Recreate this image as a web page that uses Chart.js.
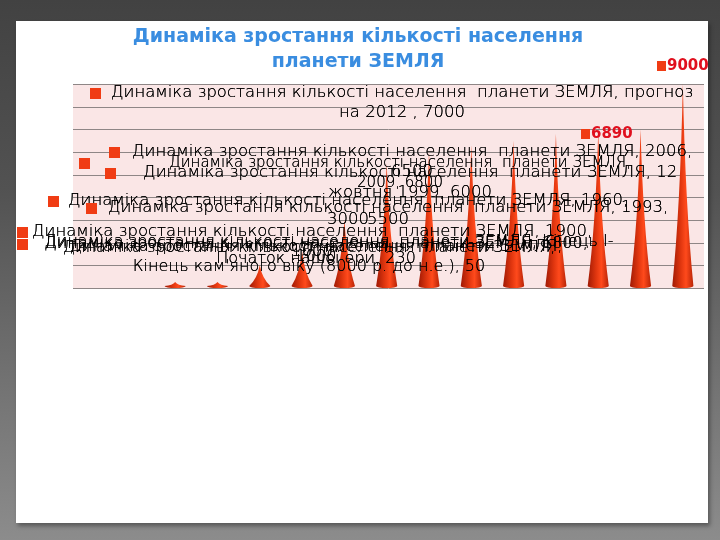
<!DOCTYPE html>
<html>
<head>
<meta charset="utf-8">
<script src="https://cdn.jsdelivr.net/npm/chart.js@4"></script>
<style>
  html, body { margin: 0; padding: 0; }
  body {
    width: 720px; height: 540px; overflow: hidden; position: relative;
    background: linear-gradient(180deg, #424242 0%, #525252 35%, #767676 75%, #8c8c8c 100%);
  }
  #panel {
    position: absolute; left: 16px; top: 21px; width: 692px; height: 502px;
    background: #fff; box-shadow: 2px 3px 4px rgba(0,0,0,0.35);
  }
  canvas { position: absolute; left: 0; top: 0; }
</style>
</head>
<body>
<div id="panel"></div>
<canvas id="chart" width="720" height="540"></canvas>
<script>
// population, millions
const categories = ["Кінець кам'яного віку (8000 р. до н.е.)", "Початок нашої ери", "1800", "1900", "1960", "1993",
  "12 жовтня 1999", "", "2006", "2009", "", "прогноз на 2012", ""];
const population = [50, 230, 1000, 1600, 3000, 5500, 6000, 6300, 6500, 6800, 6890, 7000, 9000];
const yTicks = [0, 1000, 2000, 3000, 4000, 5000, 6000, 7000, 8000, 9000];
const titleLines = ["Динаміка зростання кількості населення", "планети ЗЕМЛЯ"];
const series = "Динаміка зростання кількості населення  планети ЗЕМЛЯ";

// the overlapping data labels as they appear on the slide
const labelLines = [
  [series + ", прогноз", "на 2012 , 7000"],
  [series + ", 2006,", "6500"],
  [series + ",", "2009, 6800"],
  [series + ", 12", "жовтня 1999, 6000"],
  [series + ", 1960,", "3000"],
  [series + ", 1993,", "5500"],
  [series + ", 1900,", "1600"],
  [series + ", 1800,", "1000"],
  [series + ", Кінець I-"],
  [series + ",", "Початок нашої ери, 230"],
  [series + ",", "Кінець кам'яного віку (8000 р. до н.е.), 50"]
];
const redLabels = [12, 10]; // bars whose values are shown in red

// where PowerPoint left each label
const labelLayout = [
  { x: 402, ys: [93, 113], sq: [90, 88], size: 16.5 },
  { x: 412, ys: [152, 172], sq: [109, 147], size: 16.5 },
  { x: 400, ys: [163, 183], sq: [79, 158], size: 15 },
  { x: 410, ys: [173, 193], sq: [105, 168], size: 16.5 },
  { x: 348, ys: [201, 220], sq: [48, 196], size: 16.5 },
  { x: 388, ys: [208, 220], sq: [86, 203], size: 16.5 },
  { x: 312, ys: [232, 252], sq: [17, 227], size: 16.5 },
  { x: 316, ys: [244, 257], sq: [17, 239], size: 16 },
  { x: 329, ys: [242], sq: null, size: 16 },
  { x: 316, ys: [247, 259], sq: null, size: 16 },
  { x: 309, ys: [248, 267], sq: null, size: 16 }
];
const redLayout = [
  { x: 657, y: 66 },
  { x: 581, y: 134 }
];

const wallLeft = 73;
const textFont = '"DejaVu Sans", sans-serif';

const slidePlugin = {
  id: "slide",
  beforeDatasetsDraw(chart) {
    const { ctx, chartArea: a, scales: { y } } = chart;
    const top = y.getPixelForValue(yTicks[yTicks.length - 1]);
    const bottom = y.getPixelForValue(0);
    ctx.save();
    ctx.fillStyle = "#fae6e6";
    ctx.fillRect(wallLeft, top, a.right - wallLeft, bottom - top);
    ctx.strokeStyle = "#8e8686";
    ctx.lineWidth = 1;
    yTicks.forEach(v => {
      const py = Math.round(y.getPixelForValue(v)) + 0.5;
      ctx.beginPath();
      ctx.moveTo(wallLeft, py);
      ctx.lineTo(a.right, py);
      ctx.stroke();
    });
    ctx.restore();
  },
  afterDatasetsDraw(chart) {
    const ctx = chart.ctx;
    ctx.save();
    chart.getDatasetMeta(0).data.forEach(bar => {
      const { x, y, base, width } = bar.getProps(["x", "y", "base", "width"], true);
      const w = width;
      const tip = Math.min(y, base - 6);
      const h = base - tip;
      const g = ctx.createLinearGradient(x - w / 2, 0, x + w / 2, 0);
      g.addColorStop(0, "#a01a05");
      g.addColorStop(0.4, "#e0360f");
      g.addColorStop(0.65, "#ff4a1c");
      g.addColorStop(1, "#b82306");
      ctx.fillStyle = g;
      ctx.beginPath();
      ctx.moveTo(x - w / 2, base - 2);
      ctx.quadraticCurveTo(x - w * 0.12, base - h * 0.4, x, tip);
      ctx.quadraticCurveTo(x + w * 0.12, base - h * 0.4, x + w / 2, base - 2);
      ctx.ellipse(x, base - 2, w / 2, 2, 0, 0, Math.PI);
      ctx.closePath();
      ctx.fill();
    });
    ctx.restore();
  },
  afterDraw(chart) {
    const ctx = chart.ctx;
    ctx.save();
    ctx.textBaseline = "middle";

    // data labels (thin face, painted twice so it reads black)
    labelLines.forEach((lines, i) => {
      const l = labelLayout[i];
      if (l.sq) {
        ctx.fillStyle = "#f03c14";
        ctx.fillRect(l.sq[0], l.sq[1], 11, 11);
      }
      ctx.fillStyle = "#000";
      ctx.textAlign = "center";
      ctx.font = `200 ${l.size}px ${textFont}`;
      lines.forEach((t, j) => {
        ctx.fillText(t, l.x, l.ys[j]);
        ctx.fillText(t, l.x, l.ys[j]);
      });
    });

    // red value labels
    redLabels.forEach((idx, i) => {
      const l = redLayout[i];
      ctx.fillStyle = "#f03c14";
      ctx.fillRect(l.x, l.y - 5, 9, 10);
      ctx.fillStyle = "#e0101e";
      ctx.textAlign = "left";
      ctx.font = `bold 15px ${textFont}`;
      ctx.fillText(String(population[idx]), l.x + 10, l.y);
    });

    // title
    ctx.fillStyle = "#3a8de0";
    ctx.textAlign = "center";
    ctx.font = `bold 19px ${textFont}`;
    ctx.fillText(titleLines[0], 358, 37);
    ctx.fillText(titleLines[1], 358, 62);
    ctx.restore();
  }
};

new Chart(document.getElementById("chart"), {
  type: "bar",
  data: {
    labels: categories,
    datasets: [{
      label: series,
      data: population,
      backgroundColor: "rgba(0,0,0,0)",
      borderWidth: 0,
      barPercentage: 0.5,
      categoryPercentage: 1
    }]
  },
  options: {
    responsive: false,
    animation: false,
    layout: { padding: { left: 154, right: 16, top: 84, bottom: 252 } },
    scales: {
      x: { display: false },
      y: { display: false, min: 0, max: 9000 }
    },
    plugins: {
      legend: { display: false },
      title: { display: false },
      tooltip: { enabled: false }
    }
  },
  plugins: [slidePlugin]
});
</script>
</body>
</html>
